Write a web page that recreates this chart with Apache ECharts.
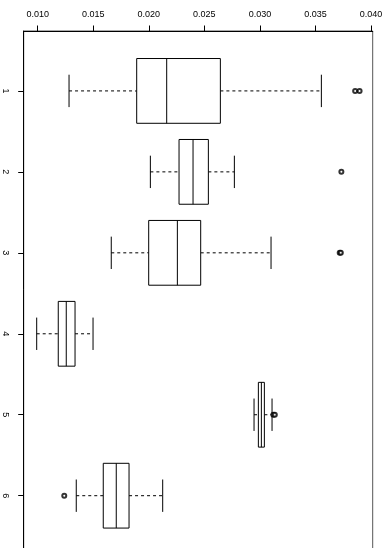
<!DOCTYPE html>
<html>
<head>
<meta charset="utf-8">
<style>
  html, body { margin: 0; padding: 0; background: #fff; }
  #chart { width: 392px; height: 548px; }
</style>
<script src="https://cdn.jsdelivr.net/npm/echarts@6/dist/echarts.min.js"></script>
</head>
<body>
<div id="chart"></div>
<script>
'use strict';

// groups, top to bottom
const groups = [1, 2, 3, 4, 5, 6];
// five-number summaries: low whisker, Q1, median, Q3, high whisker
const lowWhisker  = [0.01282, 0.02014, 0.01662, 0.00991, 0.02947, 0.01347];
const lowerQuart  = [0.01891, 0.02272, 0.01999, 0.01185, 0.02986, 0.01590];
const medians     = [0.02161, 0.02398, 0.02257, 0.01257, 0.03013, 0.01707];
const upperQuart  = [0.02644, 0.02536, 0.02467, 0.01336, 0.03040, 0.01822];
const highWhisker = [0.03553, 0.02770, 0.03100, 0.01498, 0.03109, 0.02125];
// outliers: [value, group]
const outliers = [
  [0.03857, 1], [0.03897, 1],
  [0.03733, 2],
  [0.03718, 3], [0.03728, 3],
  [0.03121, 5], [0.03134, 5],
  [0.01239, 6]
];
const valueTicks = [0.010, 0.015, 0.020, 0.025, 0.030, 0.035, 0.040];

const boxData = groups.map((g, i) => [g, lowWhisker[i], lowerQuart[i], medians[i], upperQuart[i], highWhisker[i]]);

function renderBox(params, api) {
  const cat = api.value(0);
  const lo = api.coord([api.value(1), cat]);
  const q1 = api.coord([api.value(2), cat]);
  const md = api.coord([api.value(3), cat]);
  const q3 = api.coord([api.value(4), cat]);
  const hi = api.coord([api.value(5), cat]);
  const unit = api.size([0, 1])[1];
  const bh = unit * 0.4;
  const sh = unit * 0.2;
  const y = lo[1];
  const solid = { stroke: '#000', lineWidth: 1, fill: null };
  const dashed = { stroke: '#000', lineWidth: 1, lineDash: [3, 3] };
  return {
    type: 'group',
    children: [
      { type: 'line', shape: { x1: lo[0], y1: y, x2: q1[0], y2: y }, style: dashed },
      { type: 'line', shape: { x1: q3[0], y1: y, x2: hi[0], y2: y }, style: dashed },
      { type: 'line', shape: { x1: lo[0], y1: y - sh, x2: lo[0], y2: y + sh }, style: solid },
      { type: 'line', shape: { x1: hi[0], y1: y - sh, x2: hi[0], y2: y + sh }, style: solid },
      { type: 'rect', shape: { x: q1[0], y: y - bh, width: q3[0] - q1[0], height: bh * 2 },
        style: { stroke: '#000', lineWidth: 1, fill: '#fff' } },
      { type: 'line', shape: { x1: md[0], y1: y - bh, x2: md[0], y2: y + bh }, style: solid }
    ]
  };
}

const chart = echarts.init(document.getElementById('chart'));
chart.setOption({
  animation: false,
  grid: {
    left: 23.7, top: 31, width: 349, height: 524.6,
    outerBoundsMode: 'none',
    show: true, borderColor: '#555', borderWidth: 1,
    containLabel: false
  },
  xAxis: {
    type: 'value',
    position: 'top',
    min: 0.00874,
    max: 0.04015,
    splitLine: { show: false },
    axisLine: { show: true, lineStyle: { color: '#000', width: 1 } },
    axisTick: { show: true, length: 5.5, customValues: valueTicks, lineStyle: { color: '#000' } },
    axisLabel: {
      show: true, customValues: valueTicks, margin: 12,
      color: '#000', fontSize: 9, fontFamily: 'Liberation Sans, Arial, sans-serif',
      formatter: v => v.toFixed(3)
    }
  },
  yAxis: {
    type: 'value',
    inverse: true,
    min: 0.26,
    max: 6.74,
    splitLine: { show: false },
    axisLine: { show: true, lineStyle: { color: '#000', width: 1 } },
    axisTick: { show: true, length: 5.5, customValues: groups, lineStyle: { color: '#000' } },
    axisLabel: {
      show: true, customValues: groups, rotate: -90, margin: 14,
      color: '#000', fontSize: 9, fontFamily: 'Liberation Sans, Arial, sans-serif',
      formatter: v => String(v)
    }
  },
  series: [
    {
      type: 'custom',
      renderItem: renderBox,
      encode: { x: [1, 2, 3, 4, 5], y: 0 },
      data: boxData,
      clip: false
    },
    {
      type: 'scatter',
      symbol: 'emptyCircle',
      symbolSize: 4,
      itemStyle: { color: '#000', borderColor: '#000', borderWidth: 1 },
      data: outliers
    }
  ]
});
</script>
</body>
</html>
